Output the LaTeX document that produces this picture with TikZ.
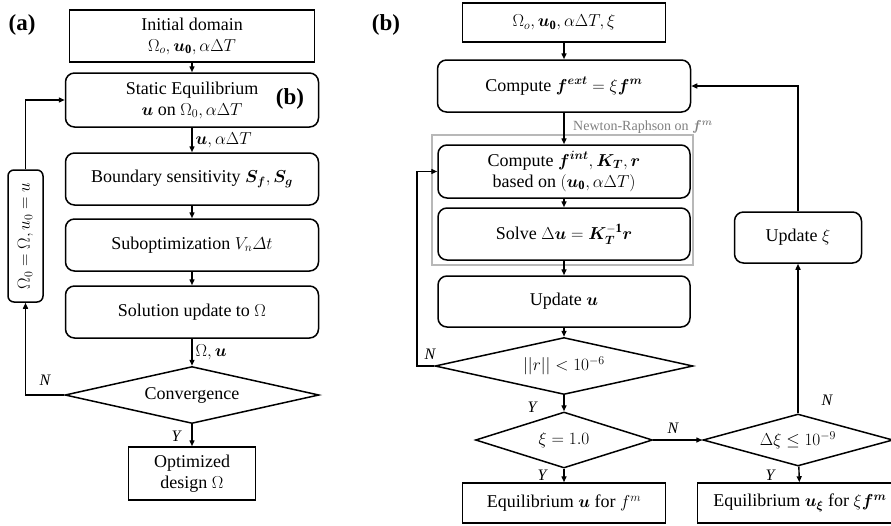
\documentclass[tikz,border=0pt]{standalone}
\usepackage{amsmath,bm}
\usepackage{fontspec}
\setmainfont{Liberation Serif}
\usetikzlibrary{arrows.meta,shapes.geometric}
\begin{document}
\begin{tikzpicture}[x=1pt,y=-1pt,
  txt/.style={font=\fontsize{18}{21}\selectfont},
  bbox/.style={txt,draw,line width=1.5pt,align=center,inner sep=2pt},
  rbox/.style={bbox,rounded corners=9pt},
  dia/.style={txt,draw,diamond,shape aspect=4.5,inner sep=0pt,line width=1.5pt},
  arr/.style={-{Triangle[length=6pt,width=5pt]},line width=1.4pt},
  lab/.style={font=\fontsize{16}{19}\selectfont\itshape,inner sep=1pt},
  panel/.style={font=\fontsize{23}{27}\selectfont\bfseries,inner sep=0pt},
  nrlab/.style={font=\fontsize{14}{16}\selectfont,text=black!50,inner sep=0pt},
  frame/.style={draw=black!28,line width=2.5pt}
]
\useasboundingbox (0,0) rectangle (891,525);

% ---------- panel (a) ----------
\node[panel] (pa) at (22,25) {(a)};
\node[bbox,minimum width=245pt,minimum height=52pt] (init) at (192,36)
  {Initial domain\\ $\Omega_o, \boldsymbol{u}_{\mathbf{0}}, \alpha\Delta T$};
\node[rbox,minimum width=253pt,minimum height=54pt] (stat) at (192,100)
  {Static Equilibrium\\ $\boldsymbol{u}$ on $\Omega_0, \alpha\Delta T$};
\node[panel] (pb2) at (290,99) {(b)};
\node[rbox,minimum width=253pt,minimum height=52pt] (bnd) at (192,179)
  {Boundary sensitivity $\boldsymbol{S_f}, \boldsymbol{S_g}$};
\node[rbox,minimum width=253pt,minimum height=52pt] (sub) at (192,245)
  {Suboptimization $V_n\varDelta t$};
\node[rbox,minimum width=253pt,minimum height=52pt] (sol) at (192,312)
  {Solution update to $\Omega$};
\node[dia,minimum width=254pt,minimum height=57pt] (conv) at (192,395) {Convergence};
\node[bbox,minimum width=127pt,minimum height=53pt] (opt) at (192,473.5)
  {Optimized\\ design $\Omega$};
\node[rbox,rotate=90,minimum width=132pt,minimum height=35pt,inner sep=0pt,rounded corners=6pt] (side) at (25.5,236)
  {$\Omega_0 = \Omega, u_0 = u$};

\draw[arr] (init) -- (stat);
\draw[arr] (stat) -- node[txt,right,inner sep=3pt] (l1) {$\boldsymbol{u}, \alpha\Delta T$} (bnd);
\draw[arr] (bnd) -- (sub);
\draw[arr] (sub) -- (sol);
\draw[arr] (sol) -- node[txt,right,inner sep=3pt] (l2) {$\Omega, \boldsymbol{u}$} (conv);
\draw[arr] (conv) -- (opt);
\node[lab] (ya) at (176,436) {Y};
\draw[arr] (conv.west) -| (side);
\node[lab] (na) at (45,380) {N};
\draw[arr] (side) |- (stat.west);

% ---------- panel (b) ----------
\node[panel] (pb) at (386,25) {(b)};
\node[bbox,minimum width=203pt,minimum height=39pt] (top) at (564,22.5)
  {$\Omega_o, \boldsymbol{u}_{\mathbf{0}}, \alpha\Delta T, \xi$};
\node[rbox,minimum width=253pt,minimum height=52pt] (fext) at (564,86)
  {Compute $\boldsymbol{f}^{\boldsymbol{ext}} = \xi\boldsymbol{f}^{\boldsymbol{m}}$};
\node[frame,minimum width=261pt,minimum height=130pt,inner sep=0pt] (nr) at (562.5,200) {};
\node[nrlab] (nrl) at (643,127) {Newton-Raphson on $\boldsymbol{f}^{\boldsymbol{m}}$};
\node[rbox,minimum width=252pt,minimum height=53pt] (fint) at (564,171.5)
  {Compute $\boldsymbol{f}^{\boldsymbol{int}}, \boldsymbol{K}_{\boldsymbol{T}}, \boldsymbol{r}$\\ based on $(\boldsymbol{u}_{\mathbf{0}}, \alpha\Delta T)$};
\node[rbox,minimum width=252pt,minimum height=52pt] (solve) at (564,234)
  {Solve $\Delta\boldsymbol{u} = \boldsymbol{K}_{\boldsymbol{T}}^{-\mathbf{1}}\boldsymbol{r}$};
\node[rbox,minimum width=252pt,minimum height=51pt] (upd) at (564,301.5)
  {Update $\boldsymbol{u}$};
\node[dia,minimum width=258pt,minimum height=57pt] (res) at (564,366) {$||r|| < 10^{-6}$};
\node[dia,minimum width=177pt,minimum height=56pt] (xi) at (564,440) {$\xi = 1.0$};
\node[bbox,minimum width=203pt,minimum height=40pt] (equ) at (564,503)
  {Equilibrium $\boldsymbol{u}$ for $f^m$};
\node[dia,minimum width=190pt,minimum height=52pt] (dxi) at (798,440) {$\Delta\xi \le 10^{-9}$};
\node[rbox,minimum width=127pt,minimum height=51pt] (updxi) at (798,237.5) {Update $\xi$};
\node[bbox,minimum width=205pt,minimum height=40pt] (equxi) at (800,503)
  {Equilibrium $\boldsymbol{u}_{\boldsymbol{\xi}}$ for $\xi\boldsymbol{f}^{\boldsymbol{m}}$};

\draw[arr] (top) -- (fext);
\draw[arr] (fext) -- (fint);
\draw[arr] (fint) -- (solve);
\draw[arr] (solve) -- (upd);
\draw[arr] (upd) -- (res);
\draw[arr] (res) -- (xi);
\draw[arr] (xi) -- (equ);
\draw[arr] (xi) -- (dxi);
\draw[arr] (dxi) -- (updxi);
\draw[arr] (dxi) -- (equxi);
\draw[arr] (updxi) |- (fext.east);
\coordinate (fb) at (417,366);
\draw[arr] (res.west) -- (fb) |- (fint.west);

\node[lab] (nb1) at (430,354) {N};
\node[lab] (yb1) at (532,407) {Y};
\node[lab] (yb2) at (542,475) {Y};
\node[lab] (nb2) at (673,428) {N};
\node[lab] (nb3) at (827,400) {N};
\node[lab] (yb3) at (770,475) {Y};
\end{tikzpicture}
\end{document}
